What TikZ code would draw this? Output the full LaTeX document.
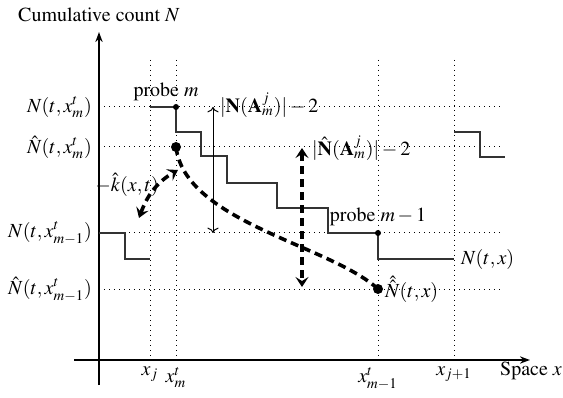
\documentclass[tikz,border=0pt]{standalone}
\usepackage{amsmath,amssymb}
\usepackage[T1]{fontenc}
\usepackage{mathptmx}
\usepackage{tikz}
\usetikzlibrary{arrows.meta}

\begin{document}
\begin{tikzpicture}[x=0.5pt,y=0.5pt,
  axis/.style={line width=1pt,-{Stealth[length=5pt,width=3.6pt]}},
  guide/.style={dotted,line width=0.5pt},
  stair/.style={line width=0.6pt,black!80},
  est/.style={line width=1.8pt,dash pattern=on 4pt off 2.5pt},
  estarrow/.style={est,{Stealth[length=5pt,width=6.5pt,inset=2pt]}-{Stealth[length=5pt,width=6.5pt,inset=2pt]}}]
\useasboundingbox (0,0) rectangle (563,397);
% axes
\coordinate (ybot) at (99,12);
\coordinate (ytop) at (99,365);
\coordinate (xlft) at (74,37);
\coordinate (xrgt) at (530,37);
\draw[axis] (ybot) -- (ytop);
\draw[axis] (xlft) -- (xrgt);
\node (ylab) at (99,382) {Cumulative count $N$};
\node (xlab) at (531,26) {Space $x$};
% guide lines
\draw[guide] (99,290) -- (503,290);
\draw[guide] (99,250) -- (503,250);
\draw[guide] (99,164) -- (503,164);
\draw[guide] (99,108) -- (503,108);
\foreach \xx in {150,176,378,454}
  \draw[guide] (\xx,337) -- (\xx,37);
\node[left] (lNm) at (99,290) {$N(t,x^t_m)$};
\node[left] (lHm) at (99,250) {$\hat{N}(t,x^t_m)$};
\node[left] (lNm1) at (99,164) {$N(t,x^t_{m-1})$};
\node[left] (lHm1) at (99,108) {$\hat{N}(t,x^t_{m-1})$};
\node[below] (lxj) at (150,37) {$x_j$};
\node[below] (lxm) at (176,37) {$x^t_m$};
\node[below] (lxm1) at (378,37) {$x^t_{m-1}$};
\node[below] (lxj1) at (454,37) {$x_{j+1}$};
% true cumulative count
\coordinate (pm) at (176,290);
\coordinate (pm1) at (378,164);
\draw[stair] (99,164) -| (125,138) -- (150,138);
\draw[stair] (150,290) -- (pm) |- (201,265) |- (227,241) |- (277,214)
  |- (328,189) |- (pm1) |- (454,138);
\draw[stair] (454,265) -| (480,240) -- (505,240);
\fill (pm) circle (3);
\fill (pm1) circle (3);
\node (prm) at (166,305) {probe $m$};
\node[above] (prm1) at (pm1) {probe $m-1$};
\node[right] (lNx) at (454,138) {$N(t,x)$};
% estimate
\coordinate (hm) at (176,250);
\coordinate (hm1) at (378,108);
\draw[est] (hm) .. controls (185,175) and (330,152) .. (hm1);
\fill (hm) circle (5);
\fill (hm1) circle (5);
\node[right] (lHx) at (hm1) {$\hat{\hat{N}}(t,x)$};
% differences
\coordinate (ta) at (213,290);
\coordinate (tb) at (213,164);
\draw[<->,line width=0.5pt] (ta) -- (tb);
\node[right] (lA) at (213,292) {$|\mathbf{N}(\mathbf{A}^j_m)|-2$};
\coordinate (da) at (302,249);
\coordinate (db) at (302,110);
\draw[estarrow] (da) -- (db);
\node[right] (lhA) at (305,249) {$|\hat{\mathbf{N}}(\mathbf{A}^j_m)|-2$};
% slope
\coordinate (kb) at (139,179);
\coordinate (kt) at (178,227);
\draw[estarrow] (kb) to[out=70,in=210] (kt);
\node[anchor=west,inner sep=0pt] (lk) at (95,212) {$-\hat{k}(x,t)$};
\end{tikzpicture}
\end{document}
